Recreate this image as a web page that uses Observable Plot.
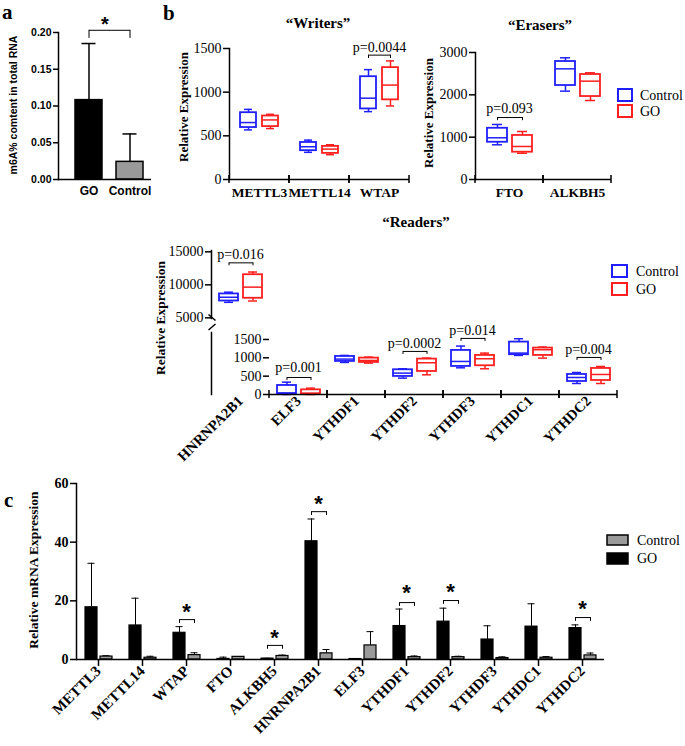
<!DOCTYPE html>
<html><head><meta charset="utf-8">
<script src="https://cdn.jsdelivr.net/npm/d3@7"></script>
<script src="https://cdn.jsdelivr.net/npm/@observablehq/plot@0.6"></script>
<style>
body{margin:0;background:#fff;}
#fig{position:relative;width:685px;height:746px;overflow:hidden;}
.p{position:absolute;}
</style></head><body><div id="fig"></div>
<script>
// ---------------- Panel a data ----------------
const aGroups = ["GO", "Control"];
const aMeans = [0.108, 0.024];
const aSD = [0.077, 0.038];

// ---------------- Panel b data (min, q1, median, q3, max) ----------------
const groups = ["Control", "GO"];
const writerGenes = ["METTL3", "METTL14", "WTAP"];
const writersControl = [[568, 595, 652, 765, 803], [311, 330, 375, 424, 451], [777, 808, 931, 1177, 1258]];
const writersGO = [[583, 606, 682, 727, 746], [284, 299, 348, 379, 398], [842, 912, 1081, 1281, 1358]];
const eraserGenes = ["FTO", "ALKBH5"];
const erasersControl = [[820, 880, 985, 1210, 1300], [2087, 2220, 2614, 2787, 2875]];
const erasersGO = [[620, 645, 780, 1040, 1134], [1866, 1960, 2323, 2480, 2520]];
const readerGenes = ["HNRNPA2B1", "ELF3", "YTHDF1", "YTHDF2", "YTHDF3", "YTHDC1", "YTHDC2"];
const readersControl = [[7350, 7550, 8120, 8620, 8880], [0, 20, 40, 246, 336], [874, 901, 965, 1037, 1065],
  [446, 492, 583, 674, 701], [728, 765, 901, 1201, 1320], [1065, 1084, 1129, 1429, 1520], [300, 355, 464, 546, 600]];
const readersGO = [[7550, 7965, 9650, 11530, 11940], [0, 10, 36, 127, 173], [856, 874, 928, 992, 1019],
  [537, 628, 865, 965, 992], [701, 783, 974, 1065, 1128], [992, 1065, 1220, 1265, 1293], [300, 382, 546, 710, 764]];
// p-value annotations: gene, label, bracket level, bracket drop, text level
const writersP = [["WTAP", "p=0.0044", 1424, 1385, 1516]];
const erasersP = [["FTO", "p=0.093", 1464, 1390, 1677]];
const readersPUpper = [["HNRNPA2B1", "p=0.016", 13330, 12880, 14545]];
const readersPLower = [["ELF3", "p=0.001", 464, 382, 737], ["YTHDF2", "p=0.0002", 1174, 1092, 1392],
  ["YTHDF3", "p=0.014", 1529, 1447, 1747], ["YTHDC2", "p=0.004", 1010, 928, 1228]];

// ---------------- Panel c data ----------------
const genesC = ["METTL3", "METTL14", "WTAP", "FTO", "ALKBH5", "HNRNPA2B1", "ELF3", "YTHDF1", "YTHDF2", "YTHDF3", "YTHDC1", "YTHDC2"];
const cGroups = ["GO", "Control"];
const cGO = [17.8, 11.6, 9.1, 0.2, 0.3, 40.3, 0.15, 11.4, 12.9, 6.8, 11.2, 10.7];
const cGOsd = [15.0, 9.3, 2.1, 0.6, 0.1, 7.6, 0.1, 5.8, 4.6, 4.7, 7.8, 1.1];
const cControl = [1.0, 0.6, 1.5, 0.9, 1.2, 2.1, 4.8, 0.8, 0.8, 0.5, 0.6, 1.4];
const cControlsd = [0.3, 0.5, 0.8, 0.1, 0.3, 1.3, 4.7, 0.4, 0.3, 0.4, 0.4, 0.8];
// significance: gene, bracket level, drop, star level
const cSig = [["WTAP", 13.6, 12.3, 16.2], ["ALKBH5", 4.8, 3.5, 7.4], ["HNRNPA2B1", 50.4, 49.1, 53.0],
  ["YTHDF1", 19.4, 18.1, 22.7], ["YTHDF2", 20.1, 18.8, 23.0], ["YTHDC2", 14.3, 13.0, 17.2]];

// ---------------- helpers ----------------
const BLUE = "#1f1fff", RED = "#ff1f1f", GRAY = "#9a9a9a";
const SERIF = "Liberation Serif, Times New Roman, DejaVu Serif, serif";
const SANS = "Liberation Sans, Arial, sans-serif";
const fig = document.getElementById("fig");
function place(node, left, top) {
  const d = document.createElement("div");
  d.className = "p"; d.style.left = left + "px"; d.style.top = top + "px";
  d.appendChild(node); fig.appendChild(d);
}
const baseStyle = {background: "transparent", overflow: "visible", fontFamily: SERIF, color: "black"};
const intFmt = d3.format("d");

function boxRows(genes, ctrl, go) {
  const rows = [];
  genes.forEach((g, i) => {
    for (const [grp, arr] of [["Control", ctrl], ["GO", go]]) {
      const [min, q1, med, q3, max] = arr[i];
      rows.push({gene: g, group: grp, min, q1, med, q3, max});
    }
  });
  return rows;
}
function pRows(list) {
  return list.map(([gene, label, y, drop, ty]) => ({gene, label, y, drop, ty, from: "Control", to: "GO"}));
}
function boxMarks(rows, cap) {
  return [
    Plot.ruleX(rows, {fx: "gene", x: "group", y1: "min", y2: "q1", stroke: "group", strokeWidth: 1.5}),
    Plot.ruleX(rows, {fx: "gene", x: "group", y1: "q3", y2: "max", stroke: "group", strokeWidth: 1.5}),
    Plot.barY(rows, {fx: "gene", x: "group", y1: "q1", y2: "q3", fill: "none", stroke: "group", strokeWidth: 1.8}),
    Plot.tickY(rows, {fx: "gene", x: "group", y: "med", stroke: "group", strokeWidth: 1.5}),
    Plot.tickY(rows, {fx: "gene", x: "group", y: "min", stroke: "group", strokeWidth: 1.5, insetLeft: cap, insetRight: cap}),
    Plot.tickY(rows, {fx: "gene", x: "group", y: "max", stroke: "group", strokeWidth: 1.5, insetLeft: cap, insetRight: cap})
  ];
}
function pMarks(rows, fs) {
  return [
    Plot.link(rows, {fx: "gene", x1: "from", x2: "to", y1: "y", y2: "y", strokeWidth: 1}),
    Plot.ruleX(rows, {fx: "gene", x: "from", y1: "drop", y2: "y", strokeWidth: 1}),
    Plot.ruleX(rows, {fx: "gene", x: "to", y1: "drop", y2: "y", strokeWidth: 1}),
    Plot.text(rows, {fx: "gene", y: "ty", text: "label", fontSize: fs, fontFamily: SERIF})
  ];
}
// separator ticks at facet edges on the baseline
function sepTicks(yv, up, down) {
  return Plot.ruleY([yv], {
    render(index, scales, values, dimensions) {
      const {marginLeft, marginRight, width} = dimensions;
      const y = scales.y(yv);
      const g = d3.create("svg:g").attr("stroke", "black").attr("stroke-width", 1.5);
      for (const x of [marginLeft, width - marginRight]) {
        g.append("line").attr("x1", x).attr("x2", x).attr("y1", y - up).attr("y2", y + down);
      }
      return g.node();
    }
  });
}
const colorScale = {domain: groups, range: [BLUE, RED]};
const yAxisB = (ticks) => Plot.axisY({ticks, tickFormat: intFmt, tickSize: 6, tickPadding: 2, strokeWidth: 1.5,
  fontSize: 14, fontFamily: SERIF, label: null});

// ---------------- Panel a ----------------
const aRows = aGroups.map((g, i) => ({group: g, mean: aMeans[i], sd: aSD[i]}));
const aSig = [{from: "GO", to: "Control", y: 0.203, drop: 0.192, ty: 0.211, label: "*"}];
place(Plot.plot({
  width: 160, height: 200, marginLeft: 58, marginRight: 9, marginTop: 32, marginBottom: 21,
  style: {...baseStyle, fontFamily: SANS},
  x: {domain: aGroups, paddingInner: 0.333, paddingOuter: 0.274, align: 0.7, axis: null},
  y: {domain: [0, 0.2], axis: null},
  color: {domain: aGroups, range: ["#000000", GRAY]},
  marks: [
    Plot.ruleX(aRows, {x: "group", y1: "mean", y2: d => d.mean + d.sd, strokeWidth: 1.5}),
    Plot.tickY(aRows, {x: "group", y: d => d.mean + d.sd, insetLeft: 6.5, insetRight: 6.5, strokeWidth: 1.5}),
    Plot.barY(aRows, {x: "group", y: "mean", fill: "group", stroke: "black", strokeWidth: 1.5}),
    Plot.ruleY([0], {strokeWidth: 1.5}),
    Plot.frame({anchor: "left", strokeWidth: 1.5}),
    Plot.axisY({ticks: [0, 0.05, 0.1, 0.15, 0.2], tickFormat: ".2f", tickSize: 5, tickPadding: 2, strokeWidth: 1.5,
      fontSize: 10.5, fontWeight: "bold", fontFamily: SANS, label: null}),
    Plot.axisX({tickSize: 0, tickPadding: 7, fontSize: 12, fontWeight: "bold", fontFamily: SANS, label: null}),
    Plot.link(aSig, {x1: "from", x2: "to", y1: "y", y2: "y", strokeWidth: 1}),
    Plot.ruleX(aSig, {x: "from", y1: "drop", y2: "y", strokeWidth: 1}),
    Plot.ruleX(aSig, {x: "to", y1: "drop", y2: "y", strokeWidth: 1}),
    Plot.text(aSig, {y: "ty", text: "label", fontSize: 20, fontWeight: "bold", fontFamily: SANS})
  ]
}), 0, 0);

// ---------------- Panel b: Writers ----------------
const wRows = boxRows(writerGenes, writersControl, writersGO);
place(Plot.plot({
  width: 255, height: 175, marginLeft: 68, marginRight: 5, marginTop: 18, marginBottom: 26,
  style: baseStyle,
  fx: {domain: writerGenes, padding: 0, axis: null},
  x: {domain: groups, paddingInner: 0.29, paddingOuter: 0.49, axis: null},
  y: {domain: [0, 1500], axis: null},
  color: colorScale,
  marks: [
    ...boxMarks(wRows, 4),
    ...pMarks(pRows(writersP), 14),
    Plot.ruleY([0], {strokeWidth: 1.5}),
    sepTicks(0, 4, 4),
    Plot.frame({anchor: "left", facetAnchor: "left", strokeWidth: 1.5}),
    yAxisB([0, 500, 1000, 1500]),
    Plot.axisFx({anchor: "bottom", tickSize: 0, tickPadding: 8, fontSize: 13.5, fontWeight: "bold", fontFamily: SERIF, label: null})
  ]
}), 160, 30);

// ---------------- Panel b: Erasers ----------------
const eRows = boxRows(eraserGenes, erasersControl, erasersGO);
place(Plot.plot({
  width: 205, height: 175, marginLeft: 65, marginRight: 4, marginTop: 22, marginBottom: 26,
  style: baseStyle,
  fx: {domain: eraserGenes, padding: 0, axis: null},
  x: {domain: groups, paddingInner: 0.22, paddingOuter: 0.47, axis: null},
  y: {domain: [0, 3000], axis: null},
  color: colorScale,
  marks: [
    ...boxMarks(eRows, 5),
    ...pMarks(pRows(erasersP), 14),
    Plot.ruleY([0], {strokeWidth: 1.5}),
    sepTicks(0, 4, 4),
    Plot.frame({anchor: "left", facetAnchor: "left", strokeWidth: 1.5}),
    yAxisB([0, 1000, 2000, 3000]),
    Plot.axisFx({anchor: "bottom", tickSize: 0, tickPadding: 8, fontSize: 13.5, fontWeight: "bold", fontFamily: SERIF, label: null})
  ]
}), 410, 30);

// ---------------- Panel b: Readers (broken axis) ----------------
const rAll = boxRows(readerGenes, readersControl, readersGO);
const rUpper = rAll.filter(d => d.gene === "HNRNPA2B1");
const rLower = rAll.filter(d => d.gene !== "HNRNPA2B1");
place(Plot.plot({
  width: 470, height: 85, marginLeft: 61, marginRight: 3, marginTop: 10, marginBottom: 7,
  style: baseStyle,
  fx: {domain: readerGenes, padding: 0, axis: null},
  x: {domain: groups, paddingInner: 0.22, paddingOuter: 0.3, axis: null},
  y: {domain: [4900, 15200], axis: null},
  color: colorScale,
  marks: [
    ...boxMarks(rUpper, 5),
    ...pMarks(pRows(readersPUpper), 14),
    Plot.frame({anchor: "left", facetAnchor: "left", strokeWidth: 1.5}),
    yAxisB([5000, 10000, 15000])
  ]
}), 150, 240);
place(Plot.plot({
  width: 470, height: 145, marginLeft: 61, marginRight: 3, marginTop: 7, marginBottom: 76,
  style: baseStyle,
  fx: {domain: readerGenes, padding: 0, axis: null},
  x: {domain: groups, paddingInner: 0.22, paddingOuter: 0.3, axis: null},
  y: {domain: [0, 1690], axis: null},
  color: colorScale,
  marks: [
    ...boxMarks(rLower, 5),
    ...pMarks(pRows(readersPLower), 14),
    Plot.ruleY([0], {strokeWidth: 1.5}),
    sepTicks(0, 4, 4),
    Plot.frame({anchor: "left", facetAnchor: "left", strokeWidth: 1.5}),
    yAxisB([0, 500, 1000, 1500]),
    Plot.axisFx({anchor: "bottom", tickSize: 0, tickPadding: 4, tickRotate: -45, textAnchor: "end",
      fontSize: 14.5, fontWeight: "bold", fontFamily: SERIF, label: null})
  ]
}), 150, 325);

// ---------------- Panel c ----------------
const cRows = [];
genesC.forEach((g, i) => {
  cRows.push({gene: g, group: "GO", value: cGO[i], sd: cGOsd[i]});
  cRows.push({gene: g, group: "Control", value: cControl[i], sd: cControlsd[i]});
});
const cSigRows = cSig.map(([gene, y, drop, ty]) => ({gene, y, drop, ty, from: "GO", to: "Control", label: "*"}));
place(Plot.plot({
  width: 612, height: 276, marginLeft: 73, marginRight: 5, marginTop: 13, marginBottom: 87,
  style: baseStyle,
  fx: {domain: genesC, padding: 0, axis: null},
  x: {domain: cGroups, paddingInner: 0.22, paddingOuter: 0.5, axis: null},
  y: {domain: [0, 60], axis: null},
  color: {domain: cGroups, range: ["#000000", GRAY]},
  marks: [
    Plot.ruleX(cRows, {fx: "gene", x: "group", y1: "value", y2: d => d.value + d.sd, strokeWidth: 1}),
    Plot.tickY(cRows, {fx: "gene", x: "group", y: d => d.value + d.sd, insetLeft: 2.5, insetRight: 2.5, strokeWidth: 1}),
    Plot.barY(cRows, {fx: "gene", x: "group", y: "value", fill: "group", stroke: "black", strokeWidth: 1.2}),
    Plot.link(cSigRows, {fx: "gene", x1: "from", x2: "to", y1: "y", y2: "y", strokeWidth: 1}),
    Plot.ruleX(cSigRows, {fx: "gene", x: "from", y1: "drop", y2: "y", strokeWidth: 1}),
    Plot.ruleX(cSigRows, {fx: "gene", x: "to", y1: "drop", y2: "y", strokeWidth: 1}),
    Plot.text(cSigRows, {fx: "gene", y: "ty", text: "label", fontSize: 22, fontWeight: "bold", fontFamily: SANS}),
    Plot.ruleY([0], {strokeWidth: 1.5}),
    Plot.frame({anchor: "left", facetAnchor: "left", strokeWidth: 1.5}),
    Plot.axisY({ticks: [0, 20, 40, 60], tickSize: 6, tickPadding: 2, strokeWidth: 1.5, fontSize: 14, fontWeight: "bold",
      fontFamily: SERIF, label: null}),
    Plot.axisFx({anchor: "bottom", tickSize: 7, tickPadding: 2, strokeWidth: 1.5, tickRotate: -45, textAnchor: "end",
      fontSize: 15, fontWeight: "bold", fontFamily: SERIF, label: null})
  ]
}), 0, 470);

// ---------------- overlay: titles, labels, legends, panel letters, axis breaks ----------------
const ov = d3.select(fig).append("svg").attr("width", 685).attr("height", 746)
  .style("position", "absolute").style("left", "0px").style("top", "0px").style("overflow", "visible");
function txt(x, y, s, o = {}) {
  return ov.append("text").attr("x", x).attr("y", y).text(s)
    .attr("font-family", o.family || SERIF).attr("font-size", o.size || 14)
    .attr("font-weight", o.weight || "normal").attr("text-anchor", o.anchor || "start").attr("fill", "black");
}
function vtxt(x, y, s, o = {}) {
  ov.append("text").attr("transform", `translate(${x},${y}) rotate(-90)`).text(s)
    .attr("font-family", o.family || SERIF).attr("font-size", o.size || 12.5)
    .attr("font-weight", "bold").attr("text-anchor", "middle").attr("dominant-baseline", "central").attr("fill", "black");
}
txt(2, 19, "a", {size: 21, weight: "bold"});
txt(163, 20, "b", {size: 21, weight: "bold"});
txt(4, 507, "c", {size: 21, weight: "bold"});
txt(318, 28, "\u201CWriters\u201D", {size: 15, weight: "bold", anchor: "middle"});
txt(540, 30, "\u201CErasers\u201D", {size: 15, weight: "bold", anchor: "middle"});
txt(416, 227, "\u201CReaders\u201D", {size: 15, weight: "bold", anchor: "middle"});
vtxt(13, 105, "m6A% comtent in total RNA", {family: SANS, size: 10.5});
vtxt(183, 107, "Relative Expression", {size: 13});
vtxt(428, 113, "Relative Expression", {size: 13});
vtxt(160, 318, "Relative Expression", {size: 13.5});
vtxt(33, 570, "Relative mRNA Expression", {size: 13.5});
// legends
function lbox(x, y, w, h, stroke, fill, sw) {
  ov.append("rect").attr("x", x).attr("y", y).attr("width", w).attr("height", h)
    .attr("fill", fill).attr("stroke", stroke).attr("stroke-width", sw);
}
lbox(618, 89, 14, 12, BLUE, "none", 2); txt(640, 100, "Control");
lbox(618, 105, 14, 12, RED, "none", 2); txt(640, 116, "GO");
lbox(612, 265, 15, 12, BLUE, "none", 2); txt(636, 276, "Control");
lbox(612, 283, 15, 12, RED, "none", 2); txt(636, 294, "GO");
lbox(607, 535, 21, 10, "black", GRAY, 1.5); txt(637, 545, "Control");
lbox(607, 553, 21, 11, "black", "black", 1.5); txt(637, 563, "GO");
// axis break marks
ov.append("line").attr("x1", 208.5).attr("y1", 314.5).attr("x2", 215.5).attr("y2", 320.5).attr("stroke", "black").attr("stroke-width", 1.5);
ov.append("line").attr("x1", 208.5).attr("y1", 330).attr("x2", 215.5).attr("y2", 324).attr("stroke", "black").attr("stroke-width", 1.5);
</script></body></html>
